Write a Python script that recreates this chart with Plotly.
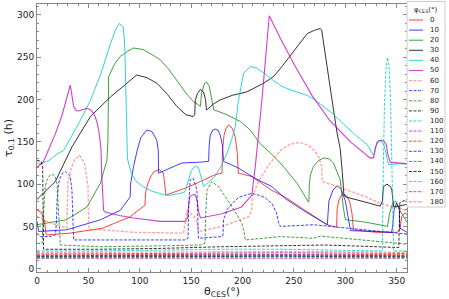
import plotly.graph_objects as go

# ---------------- data ----------------
phi_labels = ["0", "10", "20", "30", "40", "50", "60", "70", "80", "90",
              "100", "110", "120", "130", "140", "150", "160", "170", "180"]

x0 = [0, 4, 7, 9, 10, 32, 64, 90, 105, 105.7, 108, 111, 114, 119, 123, 124.8, 125.5, 148, 173, 180, 180.5, 182,
      184, 186.5, 190, 193, 195, 195.5, 196, 209, 228, 241, 260, 282, 291.5, 292, 293.5, 295.5, 298.5, 302,
      304.5, 306.5, 307.5, 308, 330, 350, 353, 355, 358, 360]
y0 = [69, 67, 58, 40, 40, 42, 48, 61, 75, 90, 101, 110, 115, 117, 113, 95, 87, 97, 111, 113, 140, 158,
      166, 170, 166, 155, 135, 120, 113, 109, 93, 85, 70, 52, 49, 70, 80, 86, 88, 85, 78, 65, 52, 46, 43, 43, 46, 62, 66, 64]

x10 = [0, 1, 1.6, 29, 62, 81, 90.7, 91, 94, 97.5, 101, 107, 112, 116.5, 118, 118.3, 133, 141, 159, 167, 167.5,
       168.6, 171, 173.4, 176, 178.3, 180.5, 181.5, 196, 212, 228.6, 241.5, 259, 282, 282.5, 284, 288, 292, 296,
       300, 302, 304.5, 305, 330, 345, 346, 347.5, 350, 352.5, 353, 360]
y10 = [56, 44, 44, 46, 58, 69, 85, 100, 121, 140, 155, 164, 162, 152, 140, 113, 121, 125, 126, 127, 145,
       158, 164, 165, 164, 158, 145, 127, 119, 107, 97, 83, 69, 52, 52, 80, 93, 98, 94, 80, 65, 50, 45, 44, 43, 50,
       70, 78, 70, 48, 43]

x20 = [0, 29, 48.6, 61.6, 68, 69, 69.7, 75, 81, 88, 94, 103.7, 112, 120, 128, 136, 146, 152, 159, 159.5, 160.5,
       163, 165, 167.5, 170, 171, 172, 185, 198, 207.5, 217, 227, 236.7, 245, 253, 264, 264.5, 265, 266, 269, 274,
       279, 284, 288.5, 292, 295, 298, 300, 320, 340.5, 341, 343, 346, 349, 351.8, 353, 360]
y20 = [52, 58, 73, 101, 128, 150, 227, 241, 251, 257, 261, 259, 253, 247, 236, 223, 206, 198, 192, 200, 210,
       219, 221, 216, 200, 192, 188, 182, 174, 164, 148, 137, 125, 113, 101, 79, 79, 100, 111, 121, 128,
       131, 130, 125, 115, 105, 73, 58, 55, 50, 50, 65, 77, 80, 72, 69, 55, 52]

x30 = [0, 17.8, 34, 52, 71.4, 85, 97, 107, 117, 127, 136, 145, 152, 153.5, 154, 156, 159, 162, 164, 164.8, 165.5,
       172, 178, 190, 204, 220, 230, 237, 246, 255, 263, 270, 275.6, 277, 282, 287, 292, 295, 297, 298.5, 300,
       315, 334, 336, 337, 340.5, 344, 345.3, 347, 360]
y30 = [82, 103, 144, 180, 203, 217, 229, 226, 219, 206, 192, 182, 180, 182, 199, 207, 212, 209, 200, 188, 188,
       195, 199.5, 205, 209, 219, 227, 237, 251, 265, 278, 282, 284, 282, 239, 200, 160, 142, 115, 89, 85,
       80, 74, 80, 97, 100, 97, 93, 73, 76]

x40 = [0, 3, 12, 20, 26, 31.7, 42, 52, 62, 71.4, 76, 80, 84, 85.5, 86.5, 87, 88, 91.7, 96, 103, 111, 119, 125,
       130, 135, 139, 144, 147.5, 150, 152, 155, 157, 159, 160.5, 162, 166, 173, 180, 186, 190, 193, 196, 201,
       207.5, 214, 220, 227, 235, 243, 253, 262.6, 270, 279, 287, 295, 308, 321, 327.5, 329, 330.7, 333, 335.6,
       338, 340.5, 342, 343.7, 350, 360]
y40 = [125, 124, 128, 136, 140, 152, 175, 199, 230, 266, 281, 290, 286, 260, 200, 152, 130, 113, 104, 97, 92,
       89, 87, 87, 88, 89, 91, 105, 115, 119, 121, 120, 112, 105, 97, 101, 109, 123, 140, 155, 168, 199, 231,
       239, 237, 232, 225, 218, 213, 209, 205, 200, 192, 184, 175, 160, 147, 134, 140, 150, 152, 150, 145,
       131, 123, 123, 124, 124]

x50 = [0, 6, 11, 18, 24, 28, 30.7, 32.4, 34, 35.6, 38, 40.5, 44, 48.6, 52, 55, 58, 60, 61.5, 62.3, 63, 64.8,
       66.4, 80, 94, 120, 144, 146.5, 147.5, 148.5, 150.8, 153, 154, 156, 157, 159, 180, 199, 209, 212.4, 218.9,
       226, 237, 250, 267.5, 285, 305, 324, 327.5, 329, 330.7, 333, 335.6, 338, 340, 341, 343.7, 360]
y50 = [120, 126, 140, 160, 180, 197, 207, 217, 205, 192, 187, 186.5, 188, 189.6, 188, 184, 175, 164, 150, 140,
       110, 69, 67, 63, 60, 56, 56, 60, 75, 85, 87, 88, 87, 80, 69, 60, 65, 73, 87, 121, 200, 299, 272, 242,
       205, 175, 150, 131, 131, 142, 148, 151, 152, 150, 146, 137, 126, 124, 127]

x60 = [0, 9, 18.8, 29, 29.5, 30, 33, 36.6, 41.4, 46.3, 49.6, 50.3, 50.6, 64, 94, 142.6, 143.5, 144.3, 145.9, 149,
       152, 154, 156, 157, 180, 206, 209, 209.5, 215, 225, 237, 246, 253, 260, 266, 271, 274, 277, 277.5, 290,
       301.6, 320, 334, 360]
y60 = [62, 56, 52, 48, 70, 101, 118, 128.5, 134, 124.6, 97, 70, 46, 46, 43, 42, 50, 60, 69, 65.5, 63, 60, 52,
       44, 50, 61.5, 69, 85, 102, 122, 140, 147, 149, 148, 144, 138, 132.5, 121, 103, 98, 93, 85, 77, 69]

x70 = [0, 3.2, 13, 18, 19, 19.5, 21, 22.7, 25, 27.5, 30, 32.4, 34, 35, 35.6, 61.6, 110, 144, 147, 147.5, 149,
       152, 154, 155.6, 156.5, 157, 180, 181, 181.5, 185, 189.7, 196, 202.6, 209, 215.6, 222, 228.6, 233, 235,
       236.7, 269, 301.6, 330, 360]
y70 = [42, 38, 38, 40, 57, 80, 101, 108, 113, 115, 112, 109, 93, 60, 34, 34, 34, 34, 36, 70, 105, 107, 100,
       93, 60, 36, 38, 40, 58, 70, 77, 84, 87, 89, 87, 84, 77, 66, 55, 50, 52, 48, 44, 41]

x80 = [0, 5, 6, 7, 8, 10, 13, 16, 17.8, 19.5, 21, 22, 22.7, 61.6, 120, 159, 163.5, 164, 165.4, 170, 176.7, 183,
       189.7, 195, 199.4, 201.5, 202.6, 236.7, 269, 275.6, 314.5, 353.5, 360]
y80 = [30, 30, 60, 85, 97, 106, 111, 111, 109, 100, 73, 45, 28, 26, 27, 28, 30, 60, 93, 103, 97, 86, 73, 63,
       53.6, 43, 34, 38, 36, 38.6, 34, 30, 29]

x90 = [0, 4, 5.5, 6.4, 60, 120, 180, 240, 280, 330, 352, 353, 360]
y90 = [128, 127, 120, 23, 23, 24, 26, 27, 28, 26, 25, 78, 82]

x100 = [0, 60, 120, 180, 240, 300, 336, 337, 338, 339.5, 341, 342.5, 344, 345.5, 346.5, 347, 360]
y100 = [21, 21, 22, 23, 23, 22, 21, 120, 190, 235, 250, 240, 200, 110, 40, 21, 21]

x_flat = [0, 60, 120, 180, 240, 300, 360]
y110 = [17.5, 17.5, 18, 18.5, 19, 18.5, 18]
y120 = [16.2, 16.2, 16.7, 17.2, 17.4, 17, 16.5]
y130 = [15.2, 15.2, 15.6, 16, 16.2, 15.8, 15.3]
y140 = [14.4, 14.4, 14.8, 15.2, 15.4, 15, 14.5]
y150 = [13.6, 13.6, 14, 14.4, 14.6, 14.2, 13.7]
y160 = [12.9, 12.9, 13.3, 13.6, 13.8, 13.4, 13]
y170 = [12.3, 12.3, 12.6, 12.9, 13.1, 12.8, 12.4]
y180 = [19.2, 19.2, 19.6, 20, 20.3, 19.9, 19.4]

x_tick_vals = [0, 50, 100, 150, 200, 250, 300, 350]
y_tick_vals = [0, 50, 100, 150, 200, 250, 300]

# ---------------- styling ----------------
RED = "rgba(255,0,0,0.75)"
BLUE = "rgba(0,0,255,0.75)"
GREEN = "rgba(0,128,0,0.75)"
BLACK = "rgba(0,0,0,0.8)"
CYAN = "rgba(0,200,200,0.8)"
MAGENTA = "rgba(191,0,191,0.75)"
PINK = "rgba(255,90,90,0.55)"

xs = [x0, x10, x20, x30, x40, x50, x60, x70, x80, x90, x100,
      x_flat, x_flat, x_flat, x_flat, x_flat, x_flat, x_flat, x_flat]
ys = [y0, y10, y20, y30, y40, y50, y60, y70, y80, y90, y100,
      y110, y120, y130, y140, y150, y160, y170, y180]
colors = [RED, BLUE, GREEN, BLACK, CYAN, MAGENTA, PINK, BLUE, GREEN, BLACK, CYAN,
          MAGENTA, RED, BLUE, GREEN, BLACK, CYAN, MAGENTA, PINK]
widths = [1, 1, 1, 1, 1, 1.1, 1.4, 1, 1, 1, 1, 1, 1, 1, 1, 1, 1, 1, 1.4]
DASH = "3px,1.5px"
dashes = ["solid"] * 6 + [DASH] * 13

fig = go.Figure()
for lab, xv, yv, c, w, d in zip(phi_labels, xs, ys, colors, widths, dashes):
    fig.add_trace(go.Scatter(x=xv, y=yv, mode="lines", name=lab,
                             line=dict(color=c, width=w, dash=d), showlegend=False))

# plot area in pixels
W, H = 449, 299
L, R, T, B = 37, 42, 4, 27
pw, ph = W - L - R, H - T - B


def px2paper_x(px):
    return (px - L) / pw


def px2paper_y(py):
    return (H - B - py) / ph


shapes = [dict(type="rect", xref="paper", yref="paper",
               x0=px2paper_x(407), x1=px2paper_x(445), y0=px2paper_y(207), y1=px2paper_y(1.5),
               line=dict(color="#cccccc", width=1), fillcolor="white", layer="above")]
annotations = [dict(text="φ<sub>CES</sub>(°)", xref="paper", yref="paper",
                    x=px2paper_x(426), y=px2paper_y(10), showarrow=False,
                    font=dict(size=7, family="DejaVu Sans", color="#222"),
                    xanchor="center", yanchor="middle")]
for i, (lab, c, w, d) in enumerate(zip(phi_labels, colors, widths, dashes)):
    py = 20 + i * 10.1
    shapes.append(dict(type="line", xref="paper", yref="paper",
                       x0=px2paper_x(409), x1=px2paper_x(423), y0=px2paper_y(py), y1=px2paper_y(py),
                       line=dict(color=c, width=w, dash=d), layer="above"))
    annotations.append(dict(text=lab, xref="paper", yref="paper", x=px2paper_x(428), y=px2paper_y(py),
                            showarrow=False, xanchor="left", yanchor="middle",
                            font=dict(size=7, family="DejaVu Sans", color="#222")))

axis_common = dict(showgrid=False, zeroline=False, showline=True, linecolor="#888888", linewidth=1,
                   mirror="allticks", ticks="inside", ticklen=4, tickcolor="#888888",
                   tickfont=dict(size=9, family="DejaVu Sans", color="#222"))

fig.update_layout(
    width=W, height=H,
    margin=dict(l=L, r=R, t=T, b=B, autoexpand=False),
    paper_bgcolor="white", plot_bgcolor="white",
    showlegend=False,
    shapes=shapes, annotations=annotations,
    xaxis=dict(range=[0, 360], tickvals=x_tick_vals,
               minor=dict(dtick=10, ticks="inside", ticklen=2, tickcolor="#888888"),
               title=dict(text="θ<sub>CES</sub>(°)", font=dict(size=11, family="DejaVu Sans", color="#222"),
                          standoff=0),
               **axis_common),
    yaxis=dict(range=[-3.9, 313], tickvals=y_tick_vals,
               minor=dict(dtick=10, ticks="inside", ticklen=2, tickcolor="#888888"),
               title=dict(text="τ<sub>0.1</sub> (h)", font=dict(size=11, family="DejaVu Sans", color="#222"),
                          standoff=2),
               **axis_common),
)

fig.write_html("out.html", config={"displayModeBar": False},
               post_script="document.body.style.margin='0';document.body.style.padding='0';")
